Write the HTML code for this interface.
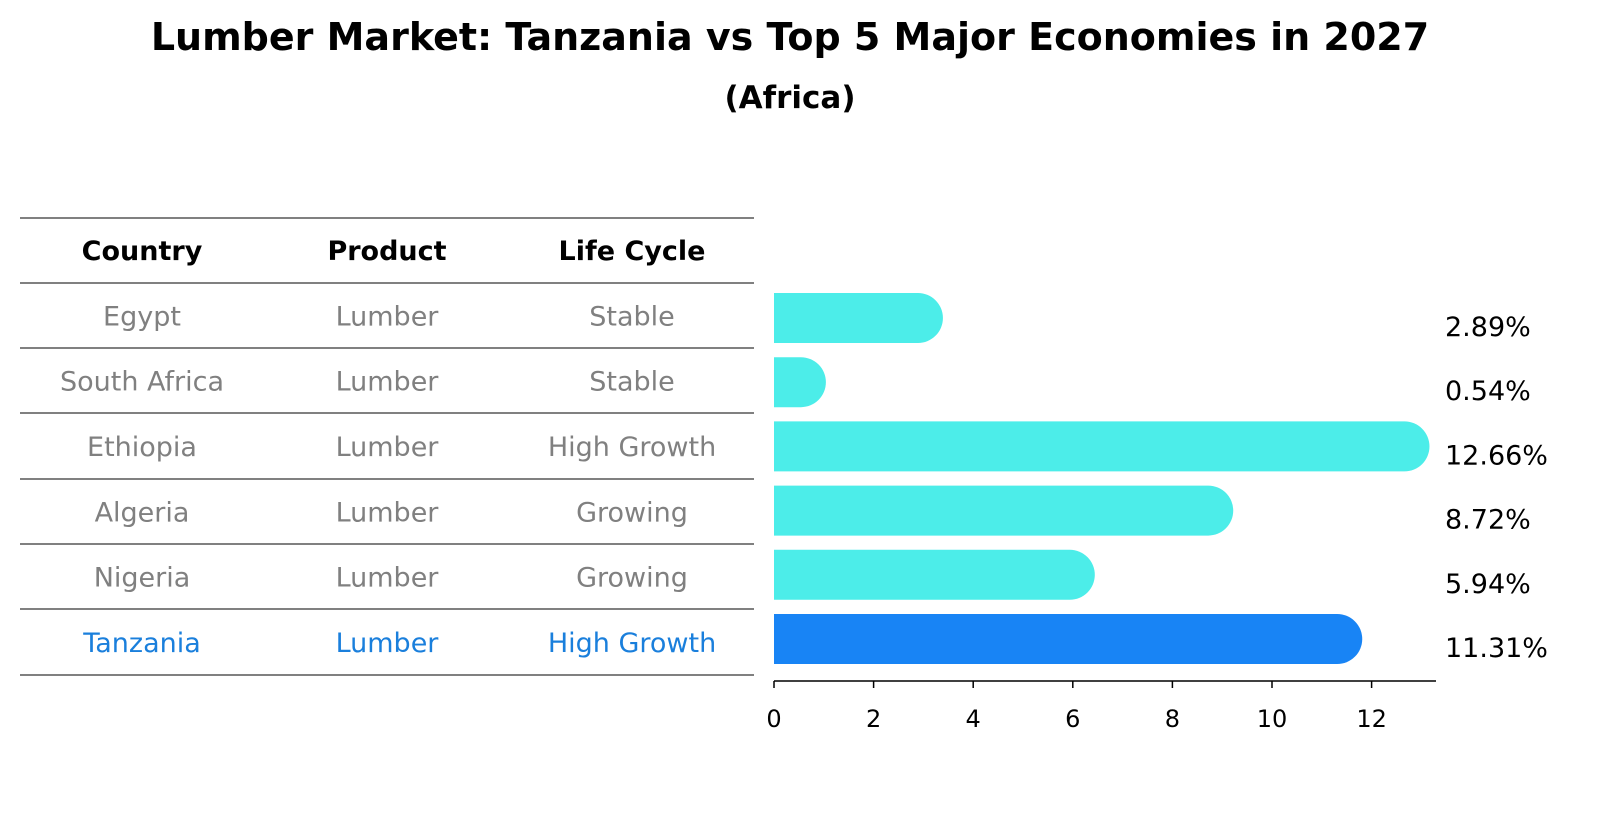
<!DOCTYPE html>
<html><head><meta charset="utf-8">
<style>
body{margin:0;background:#fff;}
svg{display:block;font-family:"DejaVu Sans","Liberation Sans",sans-serif;}
</style></head>
<body>
<svg id="chart" width="1604" height="823" viewBox="0 0 1604 823">
<text x="790" y="50" text-anchor="middle" font-size="38" font-weight="bold">Lumber Market: Tanzania vs Top 5 Major Economies in 2027</text>
<text x="790" y="108" text-anchor="middle" font-size="31" font-weight="bold">(Africa)</text>
<g id="table"></g>
<g id="bars"></g>
</svg>
<script>
const countries = ["Egypt","South Africa","Ethiopia","Algeria","Nigeria","Tanzania"];
const products = ["Lumber","Lumber","Lumber","Lumber","Lumber","Lumber"];
const lifeCycles = ["Stable","Stable","High Growth","Growing","Growing","High Growth"];
const values = [2.89,0.54,12.66,8.72,5.94,11.31];
const valueLabels = ["2.89%","0.54%","12.66%","8.72%","5.94%","11.31%"];
const xTicks = [0,2,4,6,8,10,12];

const NS="http://www.w3.org/2000/svg";
function mk(tag,attrs,parent){const e=document.createElementNS(NS,tag);for(const k in attrs)e.setAttribute(k,attrs[k]);parent.appendChild(e);return e;}
const X0=774, PX=49.8;
function xScale(v){return X0+v*PX;}
function rowY(i){return 318+i*64.2;}
const BH=50, R=25;

const table=document.getElementById('table');
const lineYs=[218,283,348,413,479,544,609,675];
lineYs.forEach((y,i)=>{
  const l=mk('line',{x1:20,x2:754,y1:y,y2:y,stroke:'#000','stroke-width':1},table);
  
  
});
const colX=[142,387,632];
["Country","Product","Life Cycle"].forEach((h,j)=>{
  const t=mk('text',{x:colX[j],y:260,'text-anchor':'middle','font-size':27,'font-weight':'bold'},table);
  t.textContent=h;
  
  
});
countries.forEach((c,i)=>{
  const cy=(lineYs[i+1]+lineYs[i+2])/2+10;
  const col=c==="Tanzania"?"#1a7fdc":"#808080";
  [c,products[i],lifeCycles[i]].forEach((v,j)=>{
    const t=mk('text',{x:colX[j],y:cy,'text-anchor':'middle','font-size':27,fill:col},table);
    t.textContent=v;
    
    
  });
});

const bars=document.getElementById('bars');
values.forEach((v,i)=>{
  const y=rowY(i)-BH/2, xe=xScale(v);
  const col=countries[i]==="Tanzania"?"#1884f5":"#4cede9";
  const p=mk('path',{d:`M${X0},${y} H${xe} A${R},${R} 0 0 1 ${xe},${y+BH} H${X0} Z`,fill:col},bars);
  
  
  const t=mk('text',{x:1445,y:rowY(i)+18,'font-size':27},bars);
  t.textContent=valueLabels[i];
  
  
});
const ax=mk('line',{x1:X0,x2:1436,y1:681,y2:681,stroke:'#000','stroke-width':1.5},bars);


xTicks.forEach(v=>{
  const l=mk('line',{x1:xScale(v),x2:xScale(v),y1:681,y2:688,stroke:'#000','stroke-width':1.5},bars);
  
  
  const t=mk('text',{x:xScale(v),y:727,'text-anchor':'middle','font-size':24},bars);
  t.textContent=v;
  
  
});
</script>
</body></html>
